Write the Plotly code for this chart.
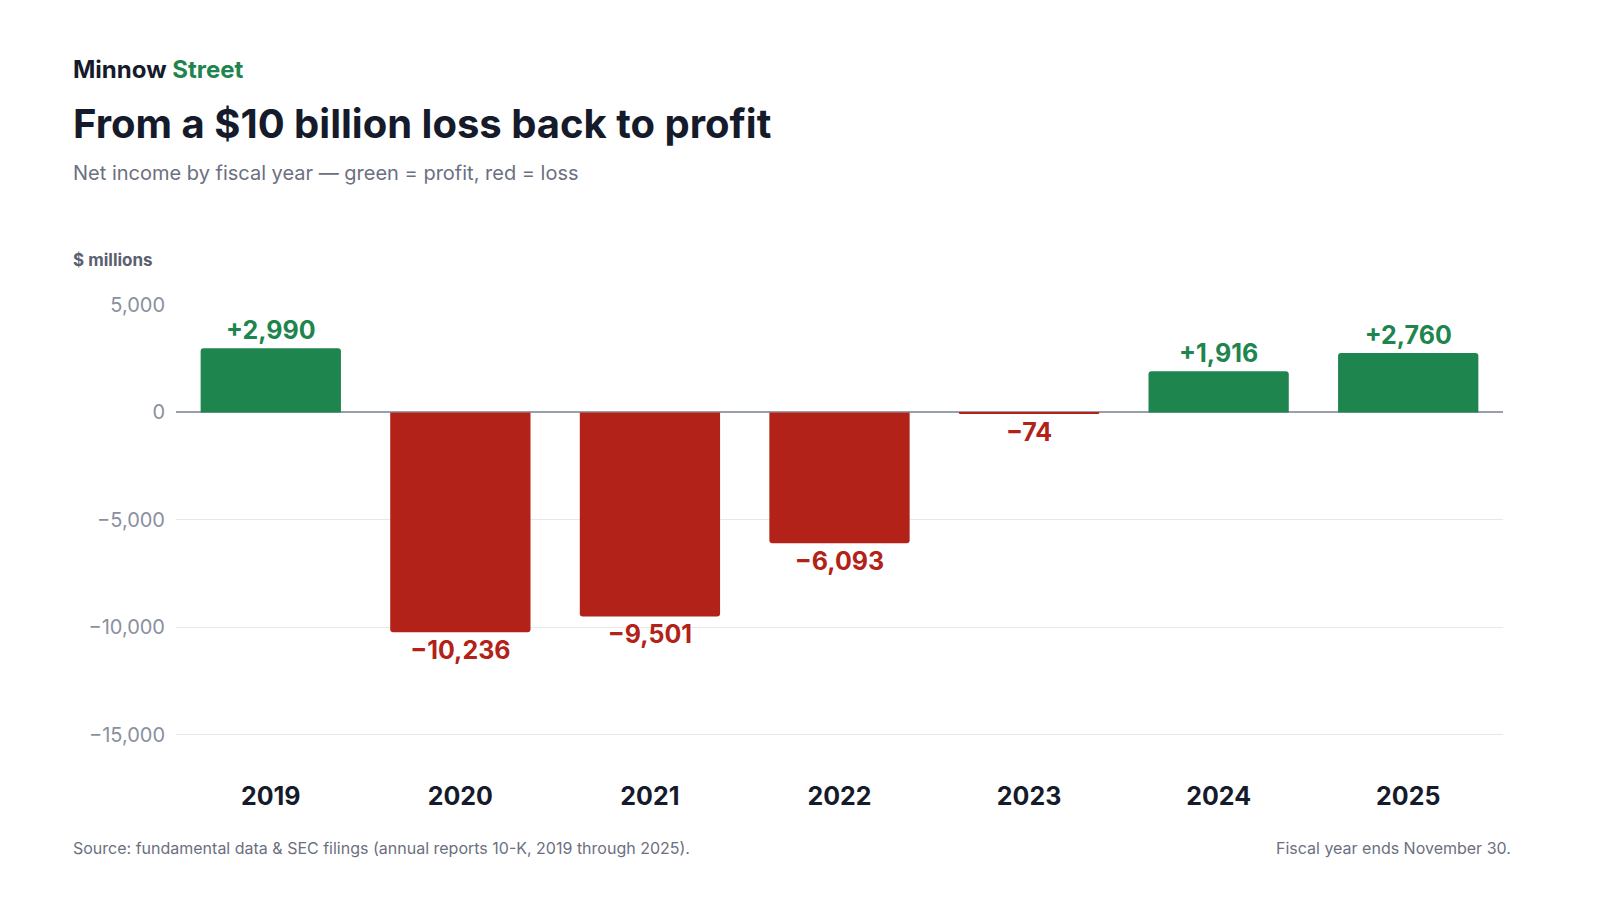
import plotly.graph_objects as go

years = ["2019", "2020", "2021", "2022", "2023", "2024", "2025"]
net_income = [2990, -10236, -9501, -6093, -74, 1916, 2760]
tick_vals = [5000, 0, -5000, -10000, -15000]
tick_text = ["5,000", "0", "−5,000", "−10,000", "−15,000"]

GREEN = "#1e854e"
RED = "#b32218"
colors = [GREEN if v >= 0 else RED for v in net_income]
labels = [("+" if v >= 0 else "−") + f"{abs(v):,}" for v in net_income]

fig = go.Figure(go.Bar(
    x=years, y=net_income, marker_color=colors, marker_line_width=0,
    text=labels, textposition="outside", cliponaxis=False,
    textfont=dict(family="Inter", size=25, color=colors, weight=700),
    width=0.74,
))
fig.update_layout(
    width=1600, height=900, plot_bgcolor="white", paper_bgcolor="white",
    margin=dict(l=168, r=105, t=297, b=152), showlegend=False,
    barcornerradius=3, font=dict(family="Inter"),
    yaxis=dict(range=[-16000, 5000], tickvals=tick_vals, ticktext=tick_text,
               showgrid=True, gridcolor="#e8e8ec", gridwidth=1,
               zeroline=True, zerolinecolor="#9a9fad", zerolinewidth=2,
               tickfont=dict(size=20, color="#8a90a0"), ticklabelstandoff=10),
    xaxis=dict(tickfont=dict(size=25, color="#151b2b", weight=700),
               ticks="outside", ticklen=18, tickcolor="rgba(0,0,0,0)",
               showline=False),
    annotations=[
        dict(x=63, y=61, xref="paper", yref="paper", text="<b>Minnow <span style='color:#1e854e'>Street</span></b>",
             font=dict(size=24, color="#151b2b")),
        dict(x=63, y=116, text="<b>From a $10 billion loss back to profit</b>",
             font=dict(size=40, color="#151b2b")),
        dict(x=63, y=165, text="Net income by fiscal year — green = profit, red = loss",
             font=dict(size=20, color="#6b7080")),
        dict(x=63, y=252, text="<b>$ millions</b>", font=dict(size=17, color="#5b6070")),
        dict(x=63, y=840, text="Source: fundamental data &amp; SEC filings (annual reports 10-K, 2019 through 2025).",
             font=dict(size=16, color="#6b7080")),
        dict(x=1505, y=840, text="Fiscal year ends November 30.", xanchor="right",
             font=dict(size=16, color="#6b7080")),
    ],
)
for a in fig.layout.annotations:
    a.xref = "paper"; a.yref = "paper"
    px_x, px_y = a.x, a.y
    a.x = (px_x - 168) / (1600 - 168 - 105)
    a.y = (900 - 152 - px_y) / (900 - 297 - 152)
    a.yanchor = "middle"
    if a.xanchor is None:
        a.xanchor = "left"
    a.showarrow = False
fig.write_html("out.html")
